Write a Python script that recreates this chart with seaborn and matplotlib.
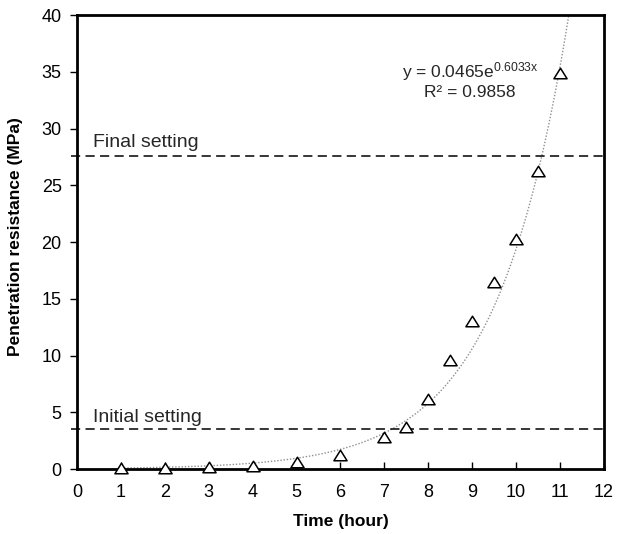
import numpy as np
import pandas as pd
import matplotlib
matplotlib.use("Agg")
import matplotlib.pyplot as plt
from matplotlib.path import Path
import seaborn as sns

time_h = [1, 2, 3, 4, 5, 6, 7, 7.5, 8, 8.5, 9, 9.5, 10, 10.5, 11]
resistance = [0.05, 0.08, 0.2, 0.3, 0.6, 1.2, 2.8, 3.7, 6.2, 9.6, 13.0, 16.5, 20.3, 26.3, 34.9]
fit_a = 0.0465
fit_b = 0.6033
initial_setting = 3.5
final_setting = 27.6
x_ticks = list(range(0, 13))
y_ticks = list(range(0, 41, 5))

sns.set_theme(style="white")
plt.rcParams['font.family'] = ['Liberation Sans', 'DejaVu Sans']
plt.rcParams['mathtext.fontset'] = 'custom'
plt.rcParams['mathtext.rm'] = 'Liberation Sans'
plt.rcParams['mathtext.it'] = 'Liberation Sans'

fig = plt.figure(figsize=(6.17, 5.34), dpi=100)
ax = fig.add_axes([0.1248, 0.1217, 0.854, 0.850])

df = pd.DataFrame({"t": time_h, "r": resistance})
xf = np.linspace(1, 12, 400)
fit = pd.DataFrame({"t": xf, "r": fit_a * np.exp(fit_b * xf)})
sns.lineplot(data=fit, x="t", y="r", ax=ax, color="#8f8f8f", linestyle=(0, (1, 1.3)), linewidth=1.0)

for yv in (initial_setting, final_setting):
    ax.axhline(yv, xmin=-0.012, xmax=1.0, color="black", linestyle=(0, (6, 3.5)),
               linewidth=1.1, clip_on=False)

tri = Path([(-1, -0.8), (1, -0.8), (0, 0.8), (-1, -0.8)],
           [Path.MOVETO, Path.LINETO, Path.LINETO, Path.CLOSEPOLY])
sns.scatterplot(data=df, x="t", y="r", ax=ax, marker=tri, s=90, facecolor="white",
                edgecolor="black", linewidth=1.1, zorder=5, clip_on=False)

ax.set_xlim(0, 12)
ax.set_ylim(0, 40)
ax.set_xticks(x_ticks)
ax.set_yticks(y_ticks)
ax.tick_params(axis="x", direction="in", length=5, width=1, labelsize=13, pad=11, bottom=True, colors="black")
ax.tick_params(axis="y", direction="out", length=5, width=1, labelsize=13, pad=6, left=True, colors="black")
for s in ax.spines.values():
    s.set_linewidth(2)
    s.set_color("black")

ax.set_xlabel("Time (hour)", fontsize=12.5, fontweight="bold", labelpad=9, color="black")
ax.set_ylabel("Penetration resistance (MPa)", fontsize=12.5, fontweight="bold", color="black", va="center")
ax.yaxis.set_label_coords(-0.116, 0.513)

ax.text(0.36, 28.4, "Final setting", fontsize=14, va="baseline")
ax.text(0.36, 4.1, "Initial setting", fontsize=14, va="baseline")
ax.text(8.95, 35.0, r"y = 0.0465e$^{\mathrm{0.6033x}}$", fontsize=12.5, ha="center", va="center")
ax.text(8.95, 33.2, "R² = 0.9858", fontsize=12.5, ha="center", va="center")

fig.savefig("out.png", dpi=100)
